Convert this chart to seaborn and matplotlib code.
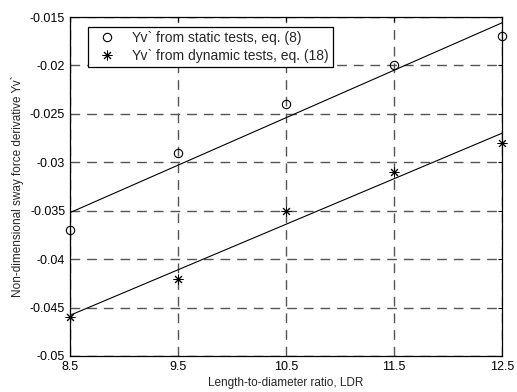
import matplotlib
matplotlib.use("Agg")
import matplotlib.pyplot as plt
import seaborn as sns
import pandas as pd
import numpy as np

ldr = [8.5, 9.5, 10.5, 11.5, 12.5]
yv_static = [-0.037, -0.029, -0.024, -0.020, -0.017]
yv_dynamic = [-0.046, -0.042, -0.035, -0.031, -0.028]
xticks = [8.5, 9.5, 10.5, 11.5, 12.5]
yticks = [-0.05, -0.045, -0.04, -0.035, -0.03, -0.025, -0.02, -0.015]
label_static = "Yv` from static tests, eq. (8)"
label_dynamic = "Yv` from dynamic tests, eq. (18)"

sns.set_style("white")
plt.rcParams['font.family'] = ['Liberation Sans', 'DejaVu Sans']

df_s = pd.DataFrame({"LDR": ldr, "Yv": yv_static})
df_d = pd.DataFrame({"LDR": ldr, "Yv": yv_dynamic})

fig = plt.figure(figsize=(5.17, 3.92), dpi=100)
ax = fig.add_axes([70/517, 1 - 356/392, (502-70)/517, (356-17)/392])

sns.regplot(data=df_s, x="LDR", y="Yv", ax=ax, ci=None, scatter=False,
            line_kws=dict(color="black", lw=0.8))
sns.regplot(data=df_d, x="LDR", y="Yv", ax=ax, ci=None, scatter=False,
            line_kws=dict(color="black", lw=0.8))
ax.plot(df_s["LDR"], df_s["Yv"], linestyle="none", marker="o", ms=6,
        mfc="none", mec="black", mew=0.8, label=label_static, clip_on=False)
ax.plot(df_d["LDR"], df_d["Yv"], linestyle="none", marker=(8, 2, 0), ms=7,
        color="black", mew=0.7, label=label_dynamic, clip_on=False)

ax.set_xlim(8.5, 12.5)
ax.set_ylim(-0.05, -0.015)
ax.set_xticks(xticks)
ax.set_xticklabels([str(t) for t in xticks])
ax.set_yticks(yticks)
ax.set_yticklabels([f"{t:g}" for t in yticks])
ax.grid(True, color="#555555", linestyle=(0, (7, 5)), lw=1.0)
for s in ax.spines.values():
    s.set_color("black")
    s.set_linewidth(0.9)
ax.tick_params(direction="in", length=3, top=True, right=True, labelsize=9,
               colors="black", width=0.8)
ax.set_xlabel("Length-to-diameter ratio, LDR", fontsize=8.5, labelpad=3)
ax.set_ylabel("Non-dimensional sway force derivative Yv`", fontsize=8.5, labelpad=4)

leg = ax.legend(loc="upper left", bbox_to_anchor=(18/432, 1 - 10/339),
                fontsize=10, frameon=True, fancybox=False, edgecolor="black",
                framealpha=1, borderpad=0.3, handletextpad=0.7, labelspacing=0.25,
                borderaxespad=0, handlelength=2.2)
leg.get_frame().set_linewidth(0.9)

fig.savefig("out.png", dpi=100)
